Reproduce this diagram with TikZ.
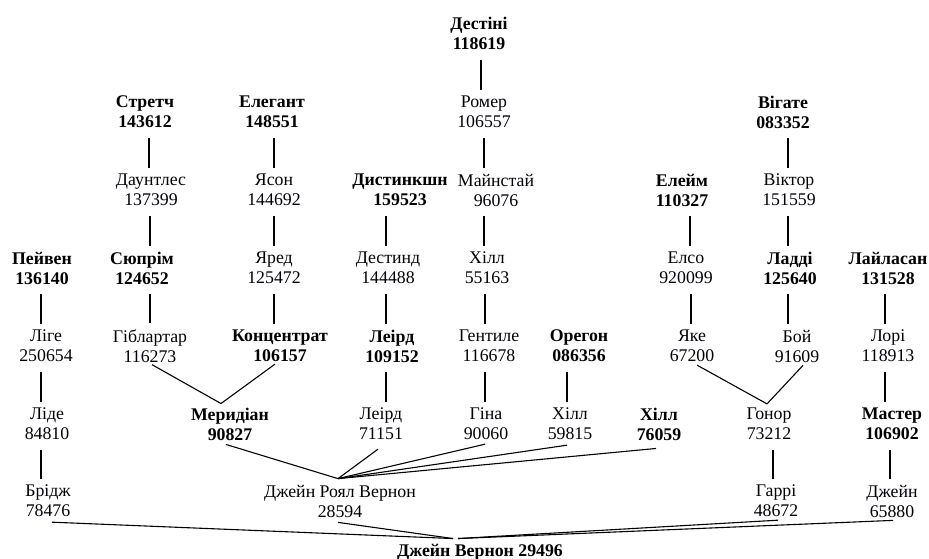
\documentclass[tikz,border=0pt]{standalone}
\usepackage{fontspec}
\setmainfont{Liberation Serif}
\definecolor{txt}{HTML}{000008}
\tikzset{
  n/.style={align=center, inner sep=0pt, text=txt, font=\fontsize{17.8}{20}\selectfont},
  bn/.style={align=center, inner sep=0pt, text=black, font=\fontsize{17.8}{20}\selectfont\bfseries},
  vl/.style={line width=1.1pt, shorten <=10pt, shorten >=6pt},
  sl/.style={line width=1.1pt}
}
\begin{document}
\begin{tikzpicture}[x=1pt,y=-1pt]
\useasboundingbox (0,0) rectangle (929,559);
% row 0
\node[bn] (des) at (479,33.5) {Дестіні\\118619};
% row 1
\node[bn] (str) at (145,112) {Стретч\\143612};
\node[bn] (ele) at (272,112) {Елегант\\148551};
\node[n]  (rom) at (484,112) {Ромер\\106557};
\node[bn] (vig) at (783,112) {Вігате\\083352};
% row 2
\node[n]  (dau) at (151,190) {Даунтлес\\137399};
\node[n]  (yas) at (274,190) {Ясон\\144692};
\node[bn] (dis) at (400,190) {Дистинкшн\\159523};
\node[n]  (mai) at (496,190) {Майнстай\\96076};
\node[bn] (elm) at (682,190) {Елейм\\110327};
\node[n]  (vik) at (789,190) {Віктор\\151559};
% row 3
\node[bn] (pei) at (42,268) {Пейвен\\136140};
\node[bn] (syu) at (142,268) {Сюпрім\\124652};
\node[n]  (yar) at (274,268) {Яред\\125472};
\node[n]  (dst) at (388,268) {Дестинд\\144488};
\node[n]  (hla) at (487,268) {Хілл\\55163};
\node[n]  (els) at (686,268) {Елсо\\920099};
\node[bn] (lad) at (790,268) {Ладді\\125640};
\node[bn] (lay) at (888,268) {Лайласан\\131528};
% row 4
\node[n]  (lig) at (46,346) {Ліге\\250654};
\node[n]  (gib) at (150,346) {Гіблартар\\116273};
\node[bn] (kon) at (280,346) {Концентрат\\106157};
\node[bn] (lra) at (392,346) {Леірд\\109152};
\node[n]  (gen) at (489,346) {Гентиле\\116678};
\node[bn] (ore) at (579,346) {Орегон\\086356};
\node[n]  (yak) at (692,346) {Яке\\67200};
\node[n]  (boi) at (797,346) {Бой\\91609};
\node[n]  (lor) at (888,346) {Лорі\\118913};
% row 5
\node[n]  (lid) at (47,424) {Ліде\\84810};
\node[bn] (mer) at (230,424) {Меридіан\\90827};
\node[n]  (lrb) at (381,424) {Леірд\\71151};
\node[n]  (gin) at (486,424) {Гіна\\90060};
\node[n]  (hlb) at (570,424) {Хілл\\59815};
\node[bn] (hlc) at (659,424) {Хілл\\76059};
\node[n]  (gon) at (769,424) {Гонор\\73212};
\node[bn] (mas) at (892,424) {Мастер\\106902};
% row 6
\node[n]  (bri) at (48,501) {Брідж\\78476};
\node[n]  (jrv) at (340,501) {Джейн Роял Вернон\\28594};
\node[n]  (gar) at (776,501) {Гаррі\\48672};
\node[n]  (dzh) at (892,501) {Джейн\\65880};
% row 7
\node[bn, anchor=base] (jv) at (480,556) {Джейн Вернон 29496};

% vertical connectors
\draw[vl] ([xshift=2pt]des.south) -- ([xshift=-3pt]rom.north);
\draw[vl] ([xshift=0pt]rom.south) -- ([xshift=-12pt]mai.north);
\draw[vl] ([xshift=-12pt]mai.south) -- ([xshift=-3pt]hla.north);
\draw[vl] ([xshift=-2pt]hla.south) -- ([xshift=-4pt]gen.north);
\draw[vl] ([xshift=-4pt]gen.south) -- ([xshift=-1pt]gin.north);
\draw[vl] ([xshift=4pt]str.south) -- ([xshift=-2pt]dau.north);
\draw[vl] ([xshift=-1pt]dau.south) -- ([xshift=8pt]syu.north);
\draw[vl] ([xshift=8pt]syu.south) -- ([xshift=0pt]gib.north);
\draw[vl] ([xshift=2pt]ele.south) -- ([xshift=0pt]yas.north);
\draw[vl] (yas.south) -- (yar.north);
\draw[vl] ([xshift=0pt]yar.south) -- ([xshift=-6pt]kon.north);
\draw[vl] ([xshift=-14pt]dis.south) -- ([xshift=-2pt]dst.north);
\draw[vl] ([xshift=-2pt]dst.south) -- ([xshift=-6pt]lra.north);
\draw[vl] ([xshift=-6pt]lra.south) -- ([xshift=5pt]lrb.north);
\draw[vl] ([xshift=8pt]elm.south) -- ([xshift=4pt]els.north);
\draw[vl] ([xshift=5pt]els.south) -- ([xshift=-1pt]yak.north);
\draw[vl] ([xshift=5pt]vig.south) -- ([xshift=-1pt]vik.north);
\draw[vl] ([xshift=-1pt]vik.south) -- ([xshift=-2pt]lad.north);
\draw[vl] ([xshift=-2pt]lad.south) -- ([xshift=-9pt]boi.north);
\draw[vl] ([xshift=-3pt]lay.south) -- ([xshift=-3pt]lor.north);
\draw[vl] ([xshift=-3pt]lor.south) -- ([xshift=-7pt]mas.north);
\draw[vl] ([xshift=-2pt]mas.south) -- ([xshift=-2pt]dzh.north);
\draw[vl] ([xshift=-1pt]pei.south) -- ([xshift=-5pt]lig.north);
\draw[vl] ([xshift=-5pt]lig.south) -- ([xshift=-6pt]lid.north);
\draw[vl] ([xshift=-6pt]lid.south) -- ([xshift=-7pt]bri.north);
\draw[vl] ([xshift=-12pt]ore.south) -- ([xshift=-3pt]hlb.north);
\draw[vl] ([xshift=4pt]gon.south) -- ([xshift=-3pt]gar.north);

% slanted connectors
\draw[sl] ([xshift=2pt,yshift=-2pt]gib.south) -- ([xshift=-9pt,yshift=4pt]mer.north);
\draw[sl] ([xshift=-5pt,yshift=-2pt]kon.south) -- ([xshift=-9pt,yshift=4pt]mer.north);
\draw[sl] ([xshift=-4pt,yshift=-4pt]mer.south) -- ([xshift=-2pt,yshift=6pt]jrv.north);
\draw[sl] ([xshift=-3pt,yshift=-9pt]lrb.south) -- ([xshift=-2pt,yshift=6pt]jrv.north);
\draw[sl] ([xshift=-1pt,yshift=-4pt]gin.south) -- ([xshift=-2pt,yshift=6pt]jrv.north);
\draw[sl] ([xshift=-3pt,yshift=-5pt]hlb.south) -- ([xshift=-2pt,yshift=6pt]jrv.north);
\draw[sl] ([xshift=-3pt,yshift=-8pt]hlc.south) -- ([xshift=-2pt,yshift=6pt]jrv.north);
\draw[sl] ([xshift=5pt,yshift=-3pt]yak.south) -- ([xshift=-2pt,yshift=4pt]gon.north);
\draw[sl] ([xshift=6pt,yshift=-3pt]boi.south) -- ([xshift=-2pt,yshift=4pt]gon.north);
\draw[sl] ([xshift=4pt,yshift=-5pt]bri.south) -- ([xshift=-27pt,yshift=5pt]jv.north);
\draw[sl] ([xshift=-2pt,yshift=-5pt]jrv.south) -- ([xshift=-27pt,yshift=5pt]jv.north);
\draw[sl] ([xshift=2pt,yshift=-3pt]gar.south) -- ([xshift=-22pt,yshift=5pt]jv.north);
\draw[sl] ([xshift=1pt,yshift=-3pt]dzh.south) -- ([xshift=-22pt,yshift=5pt]jv.north);
\end{tikzpicture}
\end{document}
